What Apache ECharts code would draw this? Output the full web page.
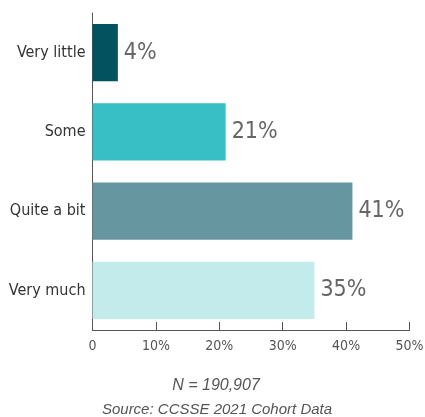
<!DOCTYPE html>
<html>
<head>
<meta charset="utf-8">
<script src="https://cdn.jsdelivr.net/npm/echarts@6/dist/echarts.min.js"></script>
<style>
  html, body { margin: 0; padding: 0; background: #ffffff; }
  #chart { width: 425px; height: 417px; }
</style>
</head>
<body>
<div id="chart"></div>
<script>
// Response categories, top to bottom
const categories = ['Very little', 'Some', 'Quite a bit', 'Very much'];
// Share of respondents (%)
const values = [4, 21, 41, 35];
const barColors = ['#02525F', '#38BEC5', '#6697A1', '#C4EBEC'];
// X-axis tick labels
const tickLabels = ['0', '10%', '20%', '30%', '40%', '50%'];
const sampleNote = 'N = 190,907';
const sourceNote = 'Source: CCSSE 2021 Cohort Data';

const narrow = '"DejaVu Sans Condensed", Roboto, sans-serif';
const noteFont = '"Liberation Sans", Arial, sans-serif';

const chart = echarts.init(document.getElementById('chart'), null, { renderer: 'canvas' });
chart.setOption({
  animation: false,
  grid: {
    left: 92.5, right: 15.5, top: 13, bottom: 87,
    containLabel: false, outerBoundsMode: 'none'
  },
  xAxis: {
    type: 'value',
    min: 0, max: 50, interval: 10,
    axisLine: { show: true, lineStyle: { color: '#555', width: 1 } },
    axisTick: { show: true, inside: true, length: 8, lineStyle: { color: '#555' } },
    splitLine: { show: false },
    axisLabel: {
      margin: 9,
      color: '#555',
      fontFamily: narrow,
      fontWeight: 200,
      fontSize: 14,
      formatter: (v) => tickLabels[Math.round(v / 10)]
    }
  },
  yAxis: {
    type: 'category',
    data: categories,
    inverse: true,
    axisLine: { show: true, lineStyle: { color: '#555', width: 1 } },
    axisTick: { show: false },
    axisLabel: { margin: 7, color: '#333', fontFamily: narrow, fontWeight: 200, fontSize: 16 }
  },
  series: [{
    type: 'bar',
    barCategoryGap: '27.5%',
    data: values.map((v, i) => ({ value: v, itemStyle: { color: barColors[i] } })),
    label: {
      show: true,
      position: 'right',
      distance: 6,
      color: '#666',
      fontFamily: narrow,
      fontWeight: 200,
      fontSize: 23,
      formatter: (p) => p.value + '%'
    }
  }],
  graphic: [
    {
      type: 'text', x: 216, y: 386,
      style: {
        text: sampleNote, fill: '#555', fontFamily: noteFont, fontStyle: 'italic',
        fontSize: 16, textAlign: 'center', textVerticalAlign: 'middle'
      }
    },
    {
      type: 'text', x: 217, y: 410,
      style: {
        text: sourceNote, fill: '#555', fontFamily: noteFont, fontStyle: 'italic',
        fontSize: 15, textAlign: 'center', textVerticalAlign: 'middle'
      }
    }
  ]
});
</script>
</body>
</html>
